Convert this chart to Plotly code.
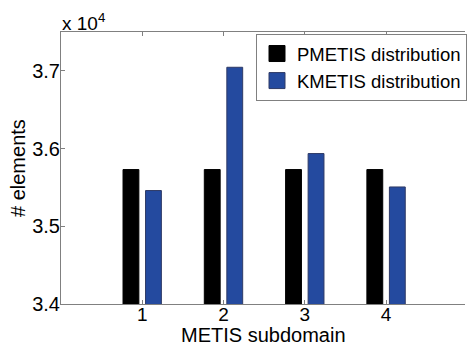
import plotly.graph_objects as go

categories = [1, 2, 3, 4]
pmetis = [35730, 35730, 35730, 35730]
kmetis = [35460, 37046, 35936, 35506]
y_tickvals = [34000, 35000, 36000, 37000]
y_ticktext = ["3.4", "3.5", "3.6", "3.7"]
series_names = ["PMETIS distribution", "KMETIS distribution"]

FONT = "Liberation Sans"
BLUE = "#244a9f"
BLACK = "#000000"
EDGE_BLUE = "#2e3a66"

fig = go.Figure()
fig.add_trace(go.Bar(
    x=categories, y=pmetis, name=series_names[0], showlegend=False,
    marker=dict(color=BLACK, line=dict(color=BLACK, width=1)),
    width=0.195, offset=-0.237,
))
fig.add_trace(go.Bar(
    x=categories, y=kmetis, name=series_names[1], showlegend=False,
    marker=dict(color=BLUE, line=dict(color=EDGE_BLUE, width=1)),
    width=0.195, offset=0.040,
))
# legend entries (square swatches like the reference)
for nm, col, edge in [(series_names[0], BLACK, BLACK), (series_names[1], BLUE, EDGE_BLUE)]:
    fig.add_trace(go.Scatter(
        x=[None], y=[None], mode="markers", name=nm,
        marker=dict(symbol="square", size=17, color=col, line=dict(color=edge, width=1)),
    ))

fig.update_layout(
    width=467, height=344,
    margin=dict(l=61, r=0, t=32, b=40),
    plot_bgcolor="white", paper_bgcolor="white",
    font=dict(family=FONT, size=19, color="black"),
    barmode="overlay",
    showlegend=True,
    legend=dict(
        x=(257 - 61) / 406, y=1.0 - 2 / 272, xanchor="left", yanchor="top",
        bgcolor="white", bordercolor="#808080", borderwidth=1,
        font=dict(size=18.5), tracegroupgap=0, itemwidth=30, itemsizing="trace",
    ),
    xaxis=dict(
        range=[0, 4.97], tickvals=categories, ticktext=[str(c) for c in categories],
        showline=True, linecolor="#808080", linewidth=1, mirror="ticks",
        ticks="inside", ticklen=4, tickcolor="#808080",
        showgrid=False, zeroline=False, ticklabelstandoff=-7,
        tickfont=dict(size=19),
    ),
    yaxis=dict(
        range=[34000, 37500], tickvals=y_tickvals, ticktext=y_ticktext,
        showline=True, linecolor="#808080", linewidth=1, mirror=False,
        ticks="inside", ticklen=4, tickcolor="#808080",
        showgrid=False, zeroline=False, ticklabelstandoff=-4,
        tickfont=dict(size=20),
    ),
)
fig.add_annotation(
    xref="paper", yref="paper", x=0.5, y=0, xanchor="center", yanchor="middle",
    text="METIS subdomain", showarrow=False, font=dict(size=20), yshift=-31,
)
fig.add_annotation(
    xref="paper", yref="paper", x=0, y=0.5, xanchor="center", yanchor="middle",
    text="# elements", showarrow=False, font=dict(size=20), textangle=-90, xshift=-43,
)
fig.add_annotation(
    xref="paper", yref="paper", x=0, y=1, xanchor="left", yanchor="bottom",
    text="x 10<sup>4</sup>", showarrow=False, font=dict(size=19), yshift=-4, xshift=-1,
)
fig.write_html(
    "out.html",
    config={"displayModeBar": False},
    post_script="document.body.style.margin='0';document.body.style.overflow='hidden';",
)
